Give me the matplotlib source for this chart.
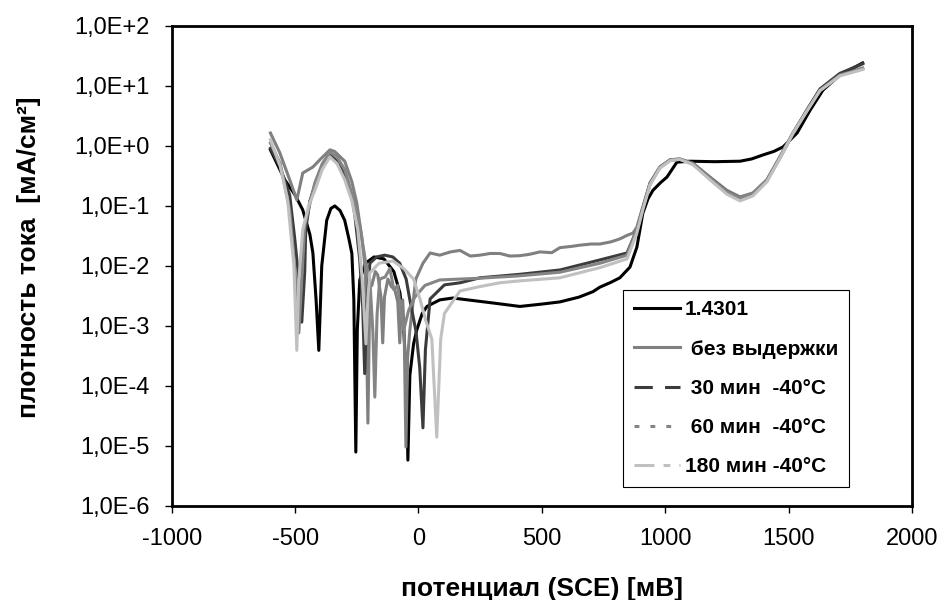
import matplotlib
matplotlib.use("Agg")
import numpy as np
import matplotlib.pyplot as plt
from matplotlib.lines import Line2D
from matplotlib.ticker import FixedLocator, FuncFormatter

plt.rcParams['font.family'] = ['Liberation Sans', 'DejaVu Sans']
plt.rcParams['axes.unicode_minus'] = False

# потенциал (SCE), мВ и плотность тока, мА/см2
e_14301 = [-600, -542, -500, -469, -440, -428, -415, -404, -392, -372, -355, -339, -318,
           -299, -282, -270, -262, -254, -248, -238, -215, -180, -140, -100, -75, -60,
           -50, -43, -35, -20, -7, 15, 34, 86, 139, 200, 301, 411, 500, 573, 650, 707,
           735, 780, 816, 857, 885, 909, 930, 950, 980, 1007, 1047, 1100, 1200, 1303,
           1350, 1396, 1440, 1477, 1534, 1587, 1639, 1708, 1800]
i_14301 = [0.85, 0.27, 0.15, 0.085, 0.033, 0.0163, 0.0027, 3.9e-4, 0.01, 0.057, 0.09,
           0.099, 0.083, 0.057, 0.028, 0.016, 0.0027, 7.9e-6, 8.5e-4, 0.0058, 0.011,
           0.014, 0.013, 0.008, 0.0035, 9e-4, 1.5e-4, 5.8e-6, 1.5e-4, 5e-4, 8.5e-4,
           1.6e-3, 2.1e-3, 2.7e-3, 2.9e-3, 2.7e-3, 2.4e-3, 2.1e-3, 2.3e-3, 2.5e-3,
           3.0e-3, 3.7e-3, 4.4e-3, 5.3e-3, 6.3e-3, 9.5e-3, 0.0205, 0.075, 0.13, 0.18,
           0.24, 0.30, 0.53, 0.55, 0.54, 0.55, 0.60, 0.70, 0.80, 0.95, 1.62, 3.9, 8.4,
           15, 23.8]

e_bez = [-600, -562, -522, -493, -469, -428, -400, -359, -340, -299, -270, -250, -230,
         -215, -205, -197, -189, -175, -165, -152, -145, -138, -124, -110, -96, -84,
         -76, -70, -64, -58, -51, -44, -35, -11, 18, 47, 86, 130, 168, 210, 249, 290,
         330, 370, 411, 450, 492, 540, 573, 620, 654, 700, 735, 780, 816, 845, 869,
         885, 909, 938, 978, 1019, 1059, 1112, 1181, 1250, 1303, 1355, 1412, 1465,
         1518, 1575, 1627, 1708, 1800]
i_bez = [1.62, 0.76, 0.27, 0.125, 0.35, 0.44, 0.58, 0.85, 0.80, 0.55, 0.25, 0.11, 0.03,
         0.0085, 2.4e-5, 0.0045, 0.0047, 0.008, 0.007, 0.003, 5.2e-4, 0.003, 0.006,
         0.0045, 0.004, 0.0025, 5.2e-4, 0.002, 0.0027, 8e-4, 9.6e-6, 3e-4, 8.5e-4,
         0.006, 0.011, 0.0163, 0.015, 0.017, 0.018, 0.0145, 0.015, 0.016, 0.016,
         0.0145, 0.0147, 0.0155, 0.017, 0.0165, 0.020, 0.021, 0.022, 0.023, 0.023,
         0.025, 0.028, 0.032, 0.035, 0.044, 0.095, 0.24, 0.44, 0.58, 0.60, 0.51, 0.30,
         0.18, 0.14, 0.163, 0.27, 0.65, 1.62, 3.9, 8.4, 15, 19.6]

e_30 = [-600, -562, -522, -501, -485, -473, -461, -457, -440, -420, -390, -359, -330,
        -299, -270, -258, -238, -226, -218, -210, -197, -170, -137, -104, -76, -50, -35,
        -10, 5, 18, 28, 47, 105, 168, 249, 411, 573, 735, 845, 885, 909, 938, 978,
        1019, 1059, 1112, 1181, 1250, 1303, 1355, 1412, 1465, 1518, 1575, 1627, 1708,
        1800]
i_30 = [0.90, 0.45, 0.15, 0.027, 0.006, 1.15e-3, 0.008, 0.04, 0.12, 0.22, 0.45, 0.70,
        0.55, 0.32, 0.14, 0.07, 0.0125, 0.002, 1.6e-4, 0.002, 0.011, 0.014, 0.015,
        0.014, 0.011, 0.006, 0.0027, 8e-4, 2e-4, 2.0e-5, 4e-4, 0.0028, 0.0048, 0.0052,
        0.0063, 0.0072, 0.0085, 0.0125, 0.0163, 0.04, 0.09, 0.23, 0.43, 0.57, 0.59,
        0.50, 0.29, 0.17, 0.135, 0.155, 0.26, 0.63, 1.6, 4.0, 8.8, 16, 23]

e_60 = [-600, -560, -522, -500, -485, -470, -461, -420, -390, -359, -330, -299, -270,
        -238, -215, -197, -185, -177, -168, -157, -135, -116, -100, -84, -70, -60, -40,
        -15, 26, 86, 249, 411, 573, 735, 845, 885, 909, 938, 978, 1019, 1059, 1112,
        1181, 1250, 1303, 1355, 1412, 1465, 1518, 1575, 1627, 1708, 1800]
i_60 = [1.1, 0.5, 0.085, 0.008, 7.6e-4, 0.01, 0.047, 0.24, 0.5, 0.78, 0.65, 0.40, 0.16,
        0.047, 0.012, 0.0058, 8e-4, 6.5e-5, 0.0015, 0.006, 0.0065, 0.009, 0.004,
        0.0047, 0.0015, 8.5e-4, 0.0018, 0.003, 0.0047, 0.0058, 0.0062, 0.0068, 0.0078,
        0.011, 0.015, 0.042, 0.092, 0.23, 0.44, 0.58, 0.60, 0.50, 0.29, 0.17, 0.135,
        0.16, 0.27, 0.66, 1.65, 3.9, 8.4, 15, 19]

e_180 = [-600, -560, -530, -505, -493, -485, -469, -445, -420, -390, -359, -330, -299,
         -270, -246, -228, -213, -205, -197, -160, -104, -60, -20, 6, 30, 54, 74, 90,
         105, 168, 249, 330, 411, 573, 735, 845, 885, 909, 938, 978, 1019, 1059, 1112,
         1181, 1250, 1303, 1355, 1412, 1465, 1518, 1575, 1627, 1708, 1800]
i_180 = [1.25, 0.45, 0.12, 0.01, 3.9e-4, 0.006, 0.04, 0.1, 0.18, 0.40, 0.65, 0.50, 0.27,
         0.12, 0.04, 0.006, 5e-4, 0.003, 0.0076, 0.011, 0.012, 0.009, 0.006, 0.0028,
         0.0012, 6e-4, 1.4e-5, 6e-4, 0.0016, 0.0038, 0.0045, 0.0052, 0.0056, 0.0063,
         0.0093, 0.013, 0.035, 0.085, 0.22, 0.42, 0.56, 0.59, 0.48, 0.27, 0.155, 0.12,
         0.145, 0.25, 0.62, 1.6, 3.8, 8.2, 14.5, 18.5]

labels = ['1.4301', ' без выдержки', ' 30 мин  -40°C', ' 60 мин  -40°C', '180 мин -40°C']
colors = ['#000000', '#808080', '#3c3c3c', '#858585', '#c0c0c0']
styles = ['-', '-', (0, (6, 4)), (0, (1.6, 3.6)), (0, (6.5, 3, 2.2, 3))]
series = [(e_14301, i_14301), (e_bez, i_bez), (e_30, i_30), (e_60, i_60), (e_180, i_180)]

fig = plt.figure(figsize=(9.42, 6.0), dpi=100)
ax = fig.add_axes([0.1823, 0.1567, 0.7859, 0.8008])

# в исходнике плотные данные, штрихи на кривых не видны -- рисуем сплошными
for (e, i), c in zip(series, colors):
    ax.plot(e, i, color=c, lw=2.2, solid_joinstyle='round')

ax.set_yscale('log')
ax.set_ylim(1e-6, 1e2)
ax.set_xlim(-1000, 2000)
ax.xaxis.set_major_locator(FixedLocator(np.arange(-1000, 2001, 500)))
ax.yaxis.set_major_locator(FixedLocator([10.0 ** k for k in range(-6, 3)]))
ax.yaxis.set_minor_locator(FixedLocator([]))
ax.yaxis.set_major_formatter(FuncFormatter(lambda v, p: '1,0E%+d' % round(np.log10(v))))

ax.tick_params(direction='out', length=5, width=1, labelsize=17, pad=11)
for s in ax.spines.values():
    s.set_linewidth(2)

fig.text(0.5753, 0.019, 'потенциал (SCE) [мВ]', ha='center', va='center',
         fontsize=19, fontweight='bold')
fig.text(0.031, 0.572, 'плотность тока  [мА/см²]', ha='center', va='center',
         rotation=90, fontsize=19, fontweight='bold')

handles = [Line2D([], [], color=c, lw=2.2, ls=ls) for c, ls in zip(colors, styles)]
leg = ax.legend(handles, labels, loc='upper left', bbox_to_anchor=(0.61, 0.4495),
                prop={'weight': 'bold', 'size': 15}, frameon=True, fancybox=False,
                framealpha=1, edgecolor='black', borderpad=0.5, labelspacing=0.97,
                handlelength=2.2, handletextpad=0.25, borderaxespad=0)
leg.get_frame().set_linewidth(0.8)

fig.savefig('out.png', dpi=100)
